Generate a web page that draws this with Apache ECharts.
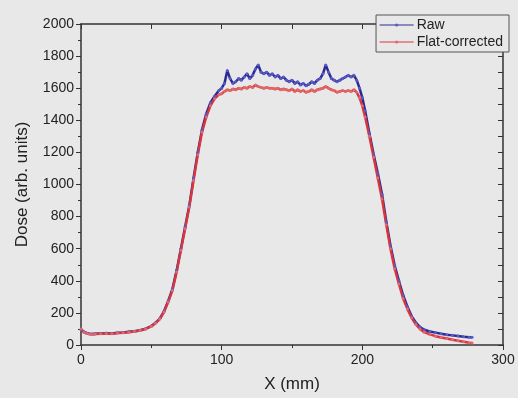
<!DOCTYPE html>
<html><head><meta charset="utf-8">
<script src="https://cdn.jsdelivr.net/npm/echarts@6/dist/echarts.min.js"></script>
<style>html,body{margin:0;padding:0;background:#e8e8e8;}#c{width:518px;height:398px;}</style>
</head><body><div id="c"></div>
<script>
const xPos = [0,2,4,6,8,10,14,18,22,26,30,34,38,42,46,50,53,56,59,62,65,68,71,74,77,80,83,86,89,92,95,98,100,102,104,106,108,110,112,114,116,118,120,122,124,126,128,130,132,134,136,138,140,142,144,146,148,150,152,154,156,158,160,162,164,166,168,170,172,174,176,178,180,182,184,186,188,190,192,194,196,198,200,202,205,208,211,214,217,220,223,226,229,232,235,238,241,244,248,252,256,260,264,268,272,276,278];
const rawDose = [95,82,74,70,68,70,72,74,72,76,78,82,86,92,102,118,138,165,210,275,350,465,600,735,870,1040,1200,1340,1440,1510,1550,1585,1600,1630,1710,1660,1630,1640,1660,1650,1670,1690,1660,1680,1720,1745,1700,1690,1700,1680,1690,1670,1680,1660,1670,1650,1640,1650,1630,1640,1620,1630,1615,1625,1640,1630,1650,1660,1690,1745,1700,1660,1650,1640,1650,1660,1670,1680,1670,1680,1650,1600,1540,1460,1320,1190,1070,940,770,620,495,400,310,240,180,140,112,95,84,77,70,64,60,56,52,49,48];
const flatDose = [100,80,72,68,66,68,70,72,70,74,76,80,84,90,100,116,136,162,205,268,340,455,590,725,860,1025,1185,1325,1420,1490,1535,1560,1565,1580,1590,1585,1595,1590,1600,1595,1605,1600,1610,1605,1620,1610,1605,1600,1605,1600,1600,1595,1600,1590,1595,1590,1585,1595,1580,1590,1580,1585,1575,1580,1590,1580,1590,1595,1600,1610,1600,1590,1585,1575,1580,1585,1580,1585,1580,1590,1575,1540,1490,1420,1300,1170,1040,910,750,600,475,380,290,225,170,128,100,80,66,55,47,40,33,26,20,14,12];
const seriesNames = ['Raw','Flat-corrected'];
const xTicks = [0,100,200,300];
const yTicks = [0,200,400,600,800,1000,1200,1400,1600,1800,2000];

const pair = ys => xPos.map((x,i)=>[x,ys[i]]);
const font = 'Liberation Sans, Arial, sans-serif';
const chart = echarts.init(document.getElementById('c'), null, {renderer:'canvas'});
const axisCol = '#333';
const plain = v => String(v);
chart.setOption({
  backgroundColor:'#e8e8e8',
  animation:false,
  grid:{left:81,right:15,top:24,bottom:52},
  legend:{
    orient:'vertical', right:9, top:15,
    data:seriesNames,
    itemWidth:34, itemHeight:4, itemGap:3,
    padding:[3,6,3,3],
    borderColor:'#555', borderWidth:1,
    backgroundColor:'#e8e8e8',
    lineStyle:{width:1.2},
    textStyle:{fontFamily:font,fontSize:14,color:'#222',padding:[0,0,0,-2]}
  },
  xAxis:[{
    type:'value', min:xTicks[0], max:xTicks[xTicks.length-1], interval:100,
    position:'bottom',
    name:'X (mm)', nameLocation:'middle', nameGap:31,
    nameTextStyle:{fontFamily:font,fontSize:17,color:'#222'},
    axisLine:{show:true,lineStyle:{color:axisCol,width:1.5}},
    axisTick:{show:true,length:5,lineStyle:{color:axisCol}},
    minorTick:{show:true,splitNumber:2,length:3,lineStyle:{color:axisCol}},
    axisLabel:{fontFamily:font,fontSize:14,color:'#222',margin:8,formatter:plain},
    splitLine:{show:false}
  },{
    type:'value', min:0, max:300, interval:50, position:'top',
    axisLine:{show:true,onZero:false,lineStyle:{color:axisCol,width:1.5}},
    axisTick:{show:true,inside:true,length:5,lineStyle:{color:axisCol}},
    axisLabel:{show:false}, splitLine:{show:false}
  }],
  yAxis:[{
    type:'value', min:yTicks[0], max:yTicks[yTicks.length-1], interval:200,
    position:'left',
    name:'Dose (arb. units)', nameLocation:'middle', nameGap:50,
    nameTextStyle:{fontFamily:font,fontSize:17,color:'#222'},
    axisLine:{show:true,lineStyle:{color:axisCol,width:1.5}},
    axisTick:{show:true,length:5,lineStyle:{color:axisCol}},
    minorTick:{show:true,splitNumber:2,length:3,lineStyle:{color:axisCol}},
    axisLabel:{fontFamily:font,fontSize:14,color:'#222',margin:7,formatter:plain},
    splitLine:{show:false}
  },{
    type:'value', min:0, max:2000, interval:100, position:'right',
    axisLine:{show:true,onZero:false,lineStyle:{color:axisCol,width:1.5}},
    axisTick:{show:true,inside:true,length:5,lineStyle:{color:axisCol}},
    axisLabel:{show:false}, splitLine:{show:false}
  }],
  series:[{
    name:seriesNames[0], type:'line', data:pair(rawDose),
    symbol:'circle', symbolSize:3, showSymbol:true,
    color:'#2a2a92',
    lineStyle:{color:'#2a2a92',width:2.5},
    itemStyle:{color:'#5a5ac8'}
  },{
    name:seriesNames[1], type:'line', data:pair(flatDose),
    symbol:'circle', symbolSize:3, showSymbol:true,
    color:'#d8363e',
    lineStyle:{color:'#d8363e',width:2.5},
    itemStyle:{color:'#e26a6a'}
  }]
});
</script></body></html>
